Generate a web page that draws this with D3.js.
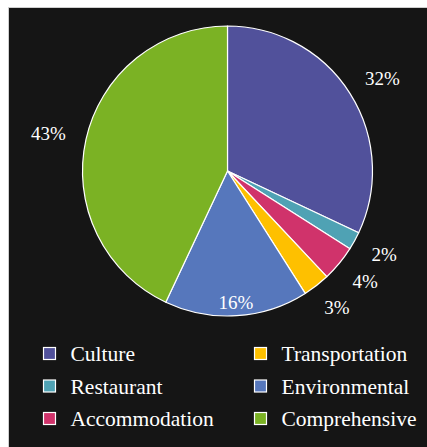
<!DOCTYPE html>
<html>
<head>
<meta charset="utf-8">
<script src="https://cdn.jsdelivr.net/npm/d3@7"></script>
<style>
  html, body { margin: 0; padding: 0; background: #ffffff; }
  svg { display: block; }
</style>
</head>
<body>
<svg id="chart" width="427" height="447"></svg>
<script>
// Share of each category (percent), listed clockwise from 12 o'clock
const categories = ["Culture", "Restaurant", "Accommodation", "Transportation", "Environmental", "Comprehensive"];
const values = [32, 2, 4, 3, 16, 43];
const colors = ["#51519b", "#4fa2b4", "#d0336b", "#fec000", "#5677bc", "#7bb224"];
// Legend layout: two columns, three rows
const legendOrder = [
  ["Culture", "Restaurant", "Accommodation"],
  ["Transportation", "Environmental", "Comprehensive"]
];
// Slices whose percentage sits inside the pie
const insideLabels = ["Environmental"];

const FONT = "'Liberation Serif', 'Times New Roman', 'DejaVu Serif', serif";
const svg = d3.select("#chart");
const W = 427, H = 447;

// Dark panel with a thin light frame
svg.append("rect")
  .attr("x", 8.5).attr("y", 7.5)
  .attr("width", W).attr("height", H)
  .attr("fill", "#151515")
  .attr("stroke", "#cfcfcf")
  .attr("stroke-width", 1);

const cx = 227.5, cy = 171, R = 145;

const color = d3.scaleOrdinal().domain(categories).range(colors);

const pie = d3.pie().sort(null).value(d => d.value);
const data = categories.map((c, i) => ({ name: c, value: values[i] }));
const arcs = pie(data);

const arc = d3.arc().innerRadius(0).outerRadius(R);
const innerLabelArc = d3.arc().innerRadius(132).outerRadius(132);
const outerAnchorR = 166;

const g = svg.append("g").attr("transform", `translate(${cx},${cy})`);

g.selectAll("path.slice")
  .data(arcs)
  .join("path")
  .attr("class", "slice")
  .attr("d", arc)
  .attr("fill", d => color(d.data.name))
  .attr("stroke", "#ffffff")
  .attr("stroke-width", 1.2)
  .attr("stroke-linejoin", "round");

const total = d3.sum(values);
const labels = g.selectAll("text.pct")
  .data(arcs)
  .join("text")
  .attr("class", "pct")
  .attr("text-anchor", "middle")
  .attr("dy", "0.35em")
  .attr("fill", "#ffffff")
  .style("font-family", FONT)
  .style("font-size", "19px")
  .text(d => Math.round(d.data.value / total * 100) + "%");

// Outside labels: the text box is pushed away from an anchor point just
// beyond the rim, in the direction of the slice's mid-angle.
labels.attr("transform", function (d) {
  if (insideLabels.includes(d.data.name)) {
    return `translate(${innerLabelArc.centroid(d)})`;
  }
  const a = (d.startAngle + d.endAngle) / 2;
  const hw = this.getComputedTextLength() / 2;
  const hh = 7;
  const s = Math.sin(a), c = Math.cos(a);
  const x = outerAnchorR * s + s * hw;
  const y = -outerAnchorR * c - c * hh;
  return `translate(${x},${y})`;
});

// Legend
const colX = [43.5, 254.5];
const rowY = [347.5, 380, 412.5];
const sw = 12;
legendOrder.forEach((col, ci) => {
  col.forEach((name, ri) => {
    const lg = svg.append("g").attr("transform", `translate(${colX[ci]},${rowY[ri]})`);
    lg.append("rect")
      .attr("width", sw).attr("height", sw)
      .attr("fill", color(name))
      .attr("stroke", "#ffffff")
      .attr("stroke-width", 1.2);
    lg.append("text")
      .attr("x", 27)
      .attr("y", sw / 2)
      .attr("dy", "0.35em")
      .attr("fill", "#ffffff")
      .style("font-family", FONT)
      .style("font-size", "21.5px")
      .text(name);
  });
});
</script>
</body>
</html>
